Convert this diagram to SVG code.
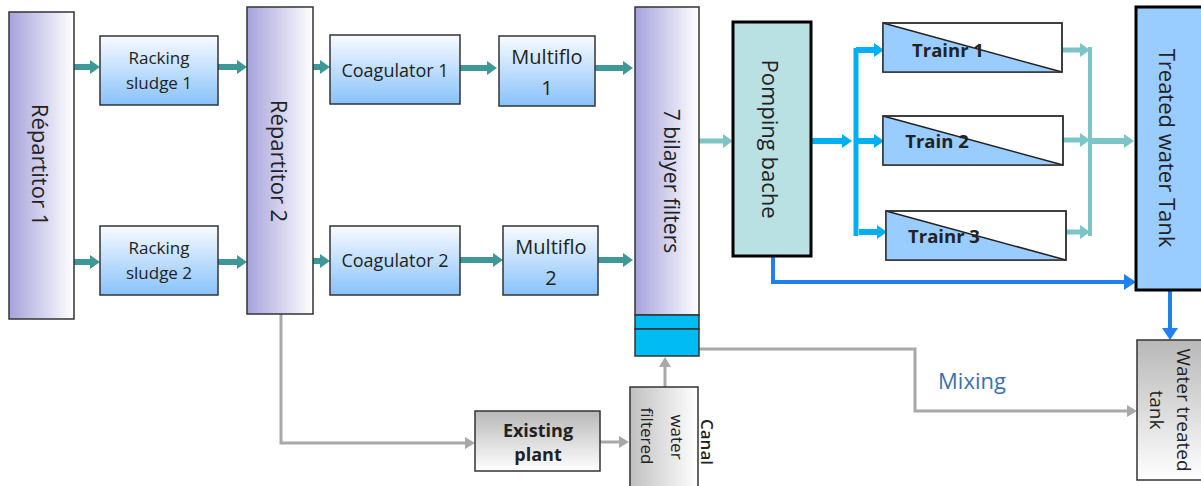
<svg xmlns="http://www.w3.org/2000/svg" width="1201" height="486" viewBox="0 0 1201 486">
  <style>
    text { font-family: "Open Sans", "Noto Sans", sans-serif; fill: #222; text-anchor: middle; }
    .box { stroke: #333; stroke-width: 1.5; }
    .heavy { stroke: #000; stroke-width: 3; }
    .rot { dominant-baseline: central; }
    .bold { font-weight: bold; }
    .teal { stroke: #3f9898; stroke-width: 6; fill: none; marker-end: url(#mTeal); }
    .lteal { stroke: #7cc4c8; stroke-width: 5; fill: none; }
    .cyan { stroke: #00b0f0; stroke-width: 6; fill: none; }
    .grey { stroke: #a8a8a8; stroke-width: 3; fill: none; }
    .blue { stroke: #2080f0; stroke-width: 4; fill: none; }
  </style>
  <defs>
    <linearGradient id="gPurple" x1="0" y1="0" x2="1" y2="0">
      <stop offset="0" stop-color="#a6a2dc"/>
      <stop offset="1" stop-color="#ffffff"/>
    </linearGradient>
    <linearGradient id="gBlue" x1="0" y1="0" x2="0" y2="1">
      <stop offset="0" stop-color="#f8fbff"/>
      <stop offset="1" stop-color="#88c2fb"/>
    </linearGradient>
    <linearGradient id="gGreyV" x1="0" y1="0" x2="0" y2="1">
      <stop offset="0" stop-color="#b8b8b8"/>
      <stop offset="1" stop-color="#ffffff"/>
    </linearGradient>
    <linearGradient id="gGreyH" x1="0" y1="0" x2="1" y2="0">
      <stop offset="0" stop-color="#c0c0c0"/>
      <stop offset="1" stop-color="#ffffff"/>
    </linearGradient>
    <marker id="mTeal" markerUnits="userSpaceOnUse" markerWidth="10" markerHeight="14" refX="0" refY="7" orient="auto" viewBox="0 0 10 14">
      <path d="M0,0 L10,7 L0,14 z" fill="#3f9898"/>
    </marker>
    <marker id="mLteal" markerUnits="userSpaceOnUse" markerWidth="10" markerHeight="14" refX="0" refY="7" orient="auto" viewBox="0 0 10 14">
      <path d="M0,0 L10,7 L0,14 z" fill="#7cc4c8"/>
    </marker>
    <marker id="mCyan" markerUnits="userSpaceOnUse" markerWidth="10" markerHeight="14" refX="0" refY="7" orient="auto" viewBox="0 0 10 14">
      <path d="M0,0 L10,7 L0,14 z" fill="#00b0f0"/>
    </marker>
    <marker id="mGrey" markerUnits="userSpaceOnUse" markerWidth="10" markerHeight="12" refX="0" refY="6" orient="auto" viewBox="0 0 10 12">
      <path d="M0,0 L10,6 L0,12 z" fill="#a8a8a8"/>
    </marker>
    <marker id="mBlue" markerUnits="userSpaceOnUse" markerWidth="12" markerHeight="16" refX="0" refY="8" orient="auto" viewBox="0 0 12 16">
      <path d="M0,0 L12,8 L0,16 z" fill="#2080f0"/>
    </marker>
  </defs>

  <!-- process flow connectors -->
  <g id="connectors">
    <path class="teal" d="M74,67 H90"/>
    <path class="teal" d="M74,262 H90"/>
    <path class="teal" d="M218,67 H237"/>
    <path class="teal" d="M218,262 H237"/>
    <path class="teal" d="M313,67 H320"/>
    <path class="teal" d="M313,261 H320"/>
    <path class="teal" d="M460,68 H487"/>
    <path class="teal" d="M460,260 H493"/>
    <path class="teal" d="M595,68 H623"/>
    <path class="teal" d="M598,260 H623"/>

    <path class="lteal" d="M699,141 H723" marker-end="url(#mLteal)"/>

    <path class="cyan" d="M811,141 H842" marker-end="url(#mCyan)"/>
    <path class="cyan" d="M856,48 V236" style="stroke-width:5"/>
    <path class="cyan" d="M856,50 H874" marker-end="url(#mCyan)"/>
    <path class="cyan" d="M856,141 H874" marker-end="url(#mCyan)"/>
    <path class="cyan" d="M859,232 H877" marker-end="url(#mCyan)"/>

    <path class="lteal" d="M1062,50 H1080" marker-end="url(#mLteal)"/>
    <path class="lteal" d="M1063,140 H1080" marker-end="url(#mLteal)"/>
    <path class="lteal" d="M1066,232 H1080" marker-end="url(#mLteal)"/>
    <path class="lteal" d="M1090,47 V236" style="stroke-width:4"/>
    <path class="lteal" d="M1092,141 H1124" style="stroke-width:6" marker-end="url(#mLteal)"/>

    <path class="blue" d="M773,256 V282 H1124" marker-end="url(#mBlue)"/>
    <path class="blue" d="M1170,290 V328" marker-end="url(#mBlue)"/>

    <path class="grey" d="M281,314 V443 H465" marker-end="url(#mGrey)"/>
    <path class="grey" d="M600,442 H619" marker-end="url(#mGrey)"/>
    <path class="grey" d="M665,387 V367" marker-end="url(#mGrey)"/>
    <path class="grey" d="M699,349 H915 V411 H1127" marker-end="url(#mGrey)"/>
    <text x="972" y="389" style="font-size:22px;fill:#3c70b0">Mixing</text>
  </g>

  <g id="repartitor1">
    <rect class="box" x="9" y="12" width="65" height="307" fill="url(#gPurple)"/>
    <text class="rot" style="font-size:22px" transform="translate(41,165) rotate(90)">Répartitor 1</text>
  </g>

  <g id="racking1">
    <rect class="box" x="100" y="36" width="118" height="69" fill="url(#gBlue)"/>
    <text x="159" y="64" style="font-size:17px">Racking</text>
    <text x="159" y="89" style="font-size:17px">sludge 1</text>
  </g>
  <g id="racking2">
    <rect class="box" x="100" y="226" width="118" height="69" fill="url(#gBlue)"/>
    <text x="159" y="254" style="font-size:17px">Racking</text>
    <text x="159" y="279" style="font-size:17px">sludge 2</text>
  </g>

  <g id="repartitor2">
    <rect class="box" x="247" y="7" width="66" height="307" fill="url(#gPurple)"/>
    <text class="rot" style="font-size:22px" transform="translate(280,161) rotate(90)">Répartitor 2</text>
  </g>

  <g id="coagulator1">
    <rect class="box" x="330" y="35" width="130" height="69" fill="url(#gBlue)"/>
    <text x="395" y="77" style="font-size:18px">Coagulator 1</text>
  </g>
  <g id="coagulator2">
    <rect class="box" x="330" y="226" width="130" height="69" fill="url(#gBlue)"/>
    <text x="395" y="267" style="font-size:18px">Coagulator 2</text>
  </g>

  <g id="multiflo1">
    <rect class="box" x="499" y="36" width="96" height="70" fill="url(#gBlue)"/>
    <text x="547" y="64" style="font-size:20px">Multiflo</text>
    <text x="547" y="95" style="font-size:20px">1</text>
  </g>
  <g id="multiflo2">
    <rect class="box" x="503" y="226" width="95" height="69" fill="url(#gBlue)"/>
    <text x="551" y="254" style="font-size:20px">Multiflo</text>
    <text x="551" y="285" style="font-size:20px">2</text>
  </g>

  <g id="filters">
    <rect class="box" x="635" y="7" width="64" height="308" fill="url(#gPurple)"/>
    <rect class="box" x="635" y="315" width="64" height="14" fill="#00bcf2"/>
    <rect class="box" x="635" y="329" width="64" height="27" fill="#00bcf2"/>
    <text class="rot" style="font-size:21px" transform="translate(672,181) rotate(90)">7 bilayer filters</text>
  </g>

  <g id="pomping-bache">
    <rect class="heavy" x="733" y="22" width="78" height="234" fill="#b9e0e2"/>
    <text class="rot" style="font-size:22px" transform="translate(771,139) rotate(90)">Pomping bache</text>
  </g>

  <g id="train1">
    <rect class="box" x="883" y="23" width="179" height="49" fill="#fff"/>
    <path d="M883,23 L883,72 L1062,72 z" fill="#99ccff"/>
    <text class="bold" x="948" y="57" style="font-size:18.5px">Trainr 1</text>
    <path d="M883,23 L1062,72" stroke="#222" stroke-width="1.5"/>
    <rect class="box" x="883" y="23" width="179" height="49" fill="none"/>
  </g>
  <g id="train2">
    <rect class="box" x="883" y="116" width="180" height="49" fill="#fff"/>
    <path d="M883,116 L883,165 L1063,165 z" fill="#99ccff"/>
    <text class="bold" x="937" y="148" style="font-size:18.5px">Train 2</text>
    <path d="M883,116 L1063,165" stroke="#222" stroke-width="1.5"/>
    <rect class="box" x="883" y="116" width="180" height="49" fill="none"/>
  </g>
  <g id="train3">
    <rect class="box" x="886" y="211" width="180" height="49" fill="#fff"/>
    <path d="M886,211 L886,260 L1066,260 z" fill="#99ccff"/>
    <text class="bold" x="944" y="243" style="font-size:18.5px">Trainr 3</text>
    <path d="M886,211 L1066,260" stroke="#222" stroke-width="1.5"/>
    <rect class="box" x="886" y="211" width="180" height="49" fill="none"/>
  </g>

  <g id="treated-water-tank">
    <rect class="heavy" x="1136" y="7" width="70" height="283" fill="#99ccff"/>
    <text class="rot" style="font-size:22px" transform="translate(1168,148) rotate(90)">Treated water Tank</text>
  </g>

  <g id="water-treated-tank">
    <rect class="box" x="1137" y="340" width="70" height="140" fill="url(#gGreyV)"/>
    <text class="rot" style="font-size:19px" transform="translate(1184,410) rotate(90)">Water treated</text>
    <text class="rot" style="font-size:19px" transform="translate(1157,410) rotate(90)">tank</text>
  </g>

  <g id="existing-plant">
    <rect class="box" x="475" y="411" width="125" height="60" fill="url(#gGreyV)"/>
    <text class="bold" x="538" y="437" style="font-size:18px">Existing</text>
    <text class="bold" x="538" y="461" style="font-size:18px">plant</text>
  </g>

  <g id="canal-water">
    <rect class="box" x="630" y="387" width="68" height="102" fill="url(#gGreyH)"/>
    <text class="rot" style="font-size:17px;font-weight:600" transform="translate(707,442) rotate(90)">Canal</text>
    <text class="rot" style="font-size:17px" transform="translate(677,437) rotate(90)">water</text>
    <text class="rot" style="font-size:17px" transform="translate(647,436) rotate(90)">filtered</text>
  </g>
</svg>
